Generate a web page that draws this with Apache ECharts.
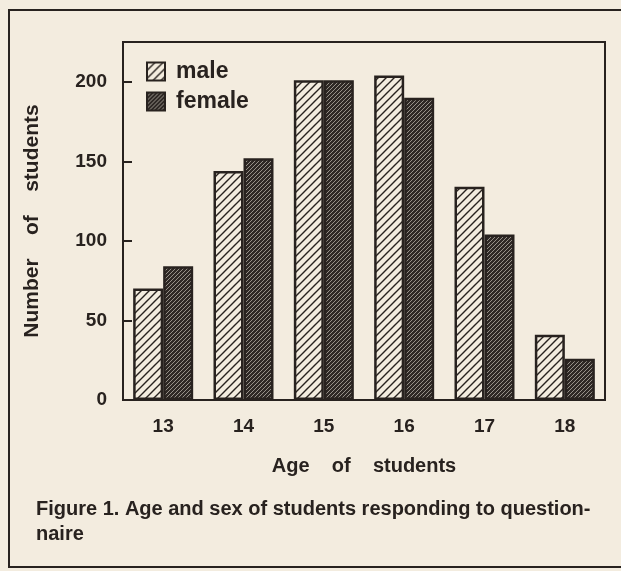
<!DOCTYPE html>
<html>
<head>
<meta charset="utf-8">
<script src="https://cdn.jsdelivr.net/npm/echarts@6/dist/echarts.min.js"></script>
<style>
html,body{margin:0;padding:0;background:#f3ecdf;}
#c{width:621px;height:571px;}
</style>
</head>
<body>
<div id="c"></div>
<script>
const ages = ['13', '14', '15', '16', '17', '18'];
const male = [70, 144, 201, 204, 134, 41];
const female = [84, 152, 201, 190, 104, 26];
const yTicks = [0, 50, 100, 150, 200];

const INK = '#28221f';
const PAPER = '#f3ecdf';

function hatch(bg, fg, size, lw) {
  const c = document.createElement('canvas');
  c.width = size; c.height = size;
  const g = c.getContext('2d');
  g.fillStyle = bg; g.fillRect(0, 0, size, size);
  g.strokeStyle = fg; g.lineWidth = lw;
  g.beginPath();
  g.moveTo(-1, size + 1); g.lineTo(size + 1, -1);
  g.moveTo(-1, 1); g.lineTo(1, -1);
  g.moveTo(size - 1, size + 1); g.lineTo(size + 1, size - 1);
  g.stroke();
  return { image: c, repeat: 'repeat' };
}

const chart = echarts.init(document.getElementById('c'), null, { renderer: 'canvas' });
const font = 'Liberation Sans, Arial, Helvetica, sans-serif';

chart.setOption({
  backgroundColor: PAPER,
  animation: false,
  textStyle: { fontFamily: font },
  graphic: [
    { type: 'rect', shape: { x: 9, y: 10, width: 640, height: 557 }, style: { fill: 'none', stroke: INK, lineWidth: 2 }, z: -1 },
    { type: 'text', left: 36, top: 497, style: { text: 'Figure 1. Age and sex of students responding to question-\nnaire', font: 'bold 20px ' + font, fill: INK, lineHeight: 25 } }
  ],
  grid: { left: 123, top: 42, right: 16, bottom: 171, show: true, borderColor: INK, borderWidth: 2, backgroundColor: 'transparent' },
  legend: {
    left: 141, top: 55, orient: 'vertical', itemWidth: 18, itemHeight: 18, itemGap: 7,
    icon: 'rect',
    textStyle: { fontSize: 23, fontWeight: 'bold', color: INK, fontFamily: font, padding: [0, 0, 0, 6] },
    data: ['male', 'female']
  },
  xAxis: {
    type: 'category', data: ages,
    axisLine: { lineStyle: { color: INK, width: 2 } },
    axisTick: { show: false },
    axisLabel: { fontSize: 19, fontWeight: 'bold', color: INK, margin: 17 },
    name: 'Age    of    students', nameLocation: 'middle', nameGap: 56,
    nameTextStyle: { fontSize: 20, fontWeight: 'bold', color: INK }
  },
  yAxis: {
    type: 'value', min: 0, max: 225, interval: 25,
    axisLine: { show: true, lineStyle: { color: INK, width: 2 } },
    axisTick: { show: true, inside: true, length: 9, lineStyle: { color: INK, width: 2 },
      customValues: yTicks },
    axisLabel: { fontSize: 19, fontWeight: 'bold', color: INK, margin: 16, customValues: yTicks },
    splitLine: { show: false },
    name: 'Number    of    students', nameLocation: 'middle', nameGap: 80,
    nameTextStyle: { fontSize: 21, fontWeight: 'bold', color: INK }
  },
  series: [
    { name: 'male', type: 'bar', data: male, barWidth: 30, barGap: '0%',
      itemStyle: { color: hatch(PAPER, INK, 8, 1.4), borderColor: INK, borderWidth: 2.5 } },
    { name: 'female', type: 'bar', data: female, barWidth: 30,
      itemStyle: { color: hatch('#2e2825', '#a39c94', 4, 0.9), borderColor: INK, borderWidth: 2.5 } }
  ]
});
</script>
</body>
</html>
